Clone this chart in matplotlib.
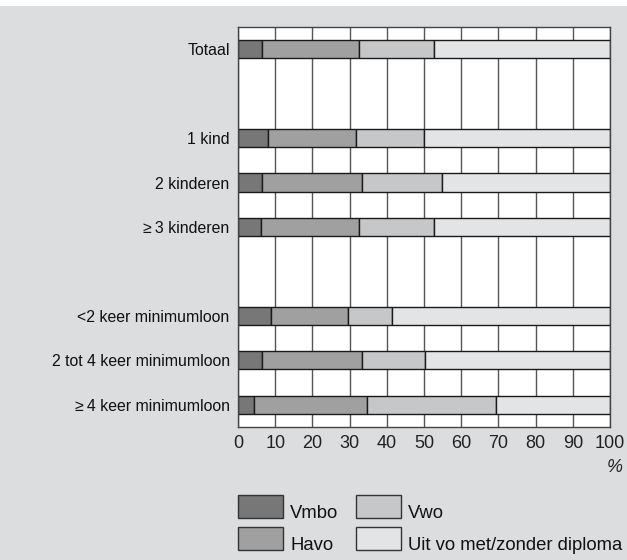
import matplotlib.pyplot as plt
from matplotlib.patches import Rectangle

plt.rcParams['font.family'] = ['Liberation Sans', 'DejaVu Sans']

# categorieen en positie (lege rijen tussen groepen)
categorieen = ['Totaal', '1 kind', '2 kinderen', '\u2265\u20093 kinderen',
               '<2 keer minimumloon', '2 tot 4 keer minimumloon', '\u2265\u20094 keer minimumloon']
rijen = [0, 2, 3, 4, 6, 7, 8]

# percentages per schooltype
vmbo = [6.5, 8.1, 6.5, 6.3, 8.9, 6.5, 4.3]
havo = [26.1, 23.6, 26.9, 26.1, 20.7, 26.7, 30.5]
vwo = [20.2, 18.3, 21.4, 20.2, 11.8, 17.1, 34.6]
uit = [47.2, 50.0, 45.2, 47.4, 58.6, 49.7, 30.6]

series = ['Vmbo', 'Havo', 'Vwo', 'Uit vo met/zonder diploma']
kleuren = ['#777777', '#a0a0a0', '#c6c7c8', '#e3e4e5']
xticks = [0, 10, 20, 30, 40, 50, 60, 70, 80, 90, 100]

bg = '#dcdddf'
fig = plt.figure(figsize=(6.27, 5.6), dpi=100, facecolor=bg)
# witte strook bovenaan
fig.patches.append(Rectangle((0, 1 - 6 / 560), 1, 6 / 560, transform=fig.transFigure,
                             facecolor='white', edgecolor='none'))

ax = fig.add_axes([238 / 627, 1 - 427 / 560, 372 / 627, 400 / 560])
ax.set_facecolor('white')

links = [0] * len(rijen)
for waarden, kleur, naam in zip([vmbo, havo, vwo, uit], kleuren, series):
    ax.barh(rijen, waarden, left=links, height=0.41, color=kleur,
            edgecolor='#1a1a1a', linewidth=1, label=naam, zorder=3)
    links = [a + b for a, b in zip(links, waarden)]

ax.set_xlim(0, 100)
ax.set_ylim(8.5, -0.5)
ax.set_xticks(xticks)
ax.set_xticklabels([str(t) for t in xticks], fontsize=13, color='#222222')
ax.set_yticks(rijen)
ax.set_yticklabels(categorieen, fontsize=11.4, color='#111111')
ax.tick_params(axis='x', length=0, pad=6)
ax.tick_params(axis='y', length=0, pad=6)
ax.grid(axis='x', color='#555555', linewidth=1, zorder=1)
for s in ax.spines.values():
    s.set_color('#444444')
    s.set_linewidth(1)
    s.set_zorder(4)

fig.text(623 / 627, 1 - 468 / 560, '%', fontsize=13, style='italic',
         ha='right', va='center', color='#222222')

# legenda
posities = [(238, 495), (238, 527), (356, 495), (356, 527)]
for (px, py), kleur, naam in zip(posities, kleuren, series):
    fig.patches.append(Rectangle((px / 627, 1 - (py + 23) / 560), 45 / 627, 23 / 560,
                                 transform=fig.transFigure, facecolor=kleur,
                                 edgecolor='#333333', linewidth=1))
    fig.text((px + 52) / 627, 1 - (py + 18) / 560, naam, fontsize=13.3,
             ha='left', va='center', color='#111111')

fig.savefig('out.png', dpi=100, facecolor=bg)
